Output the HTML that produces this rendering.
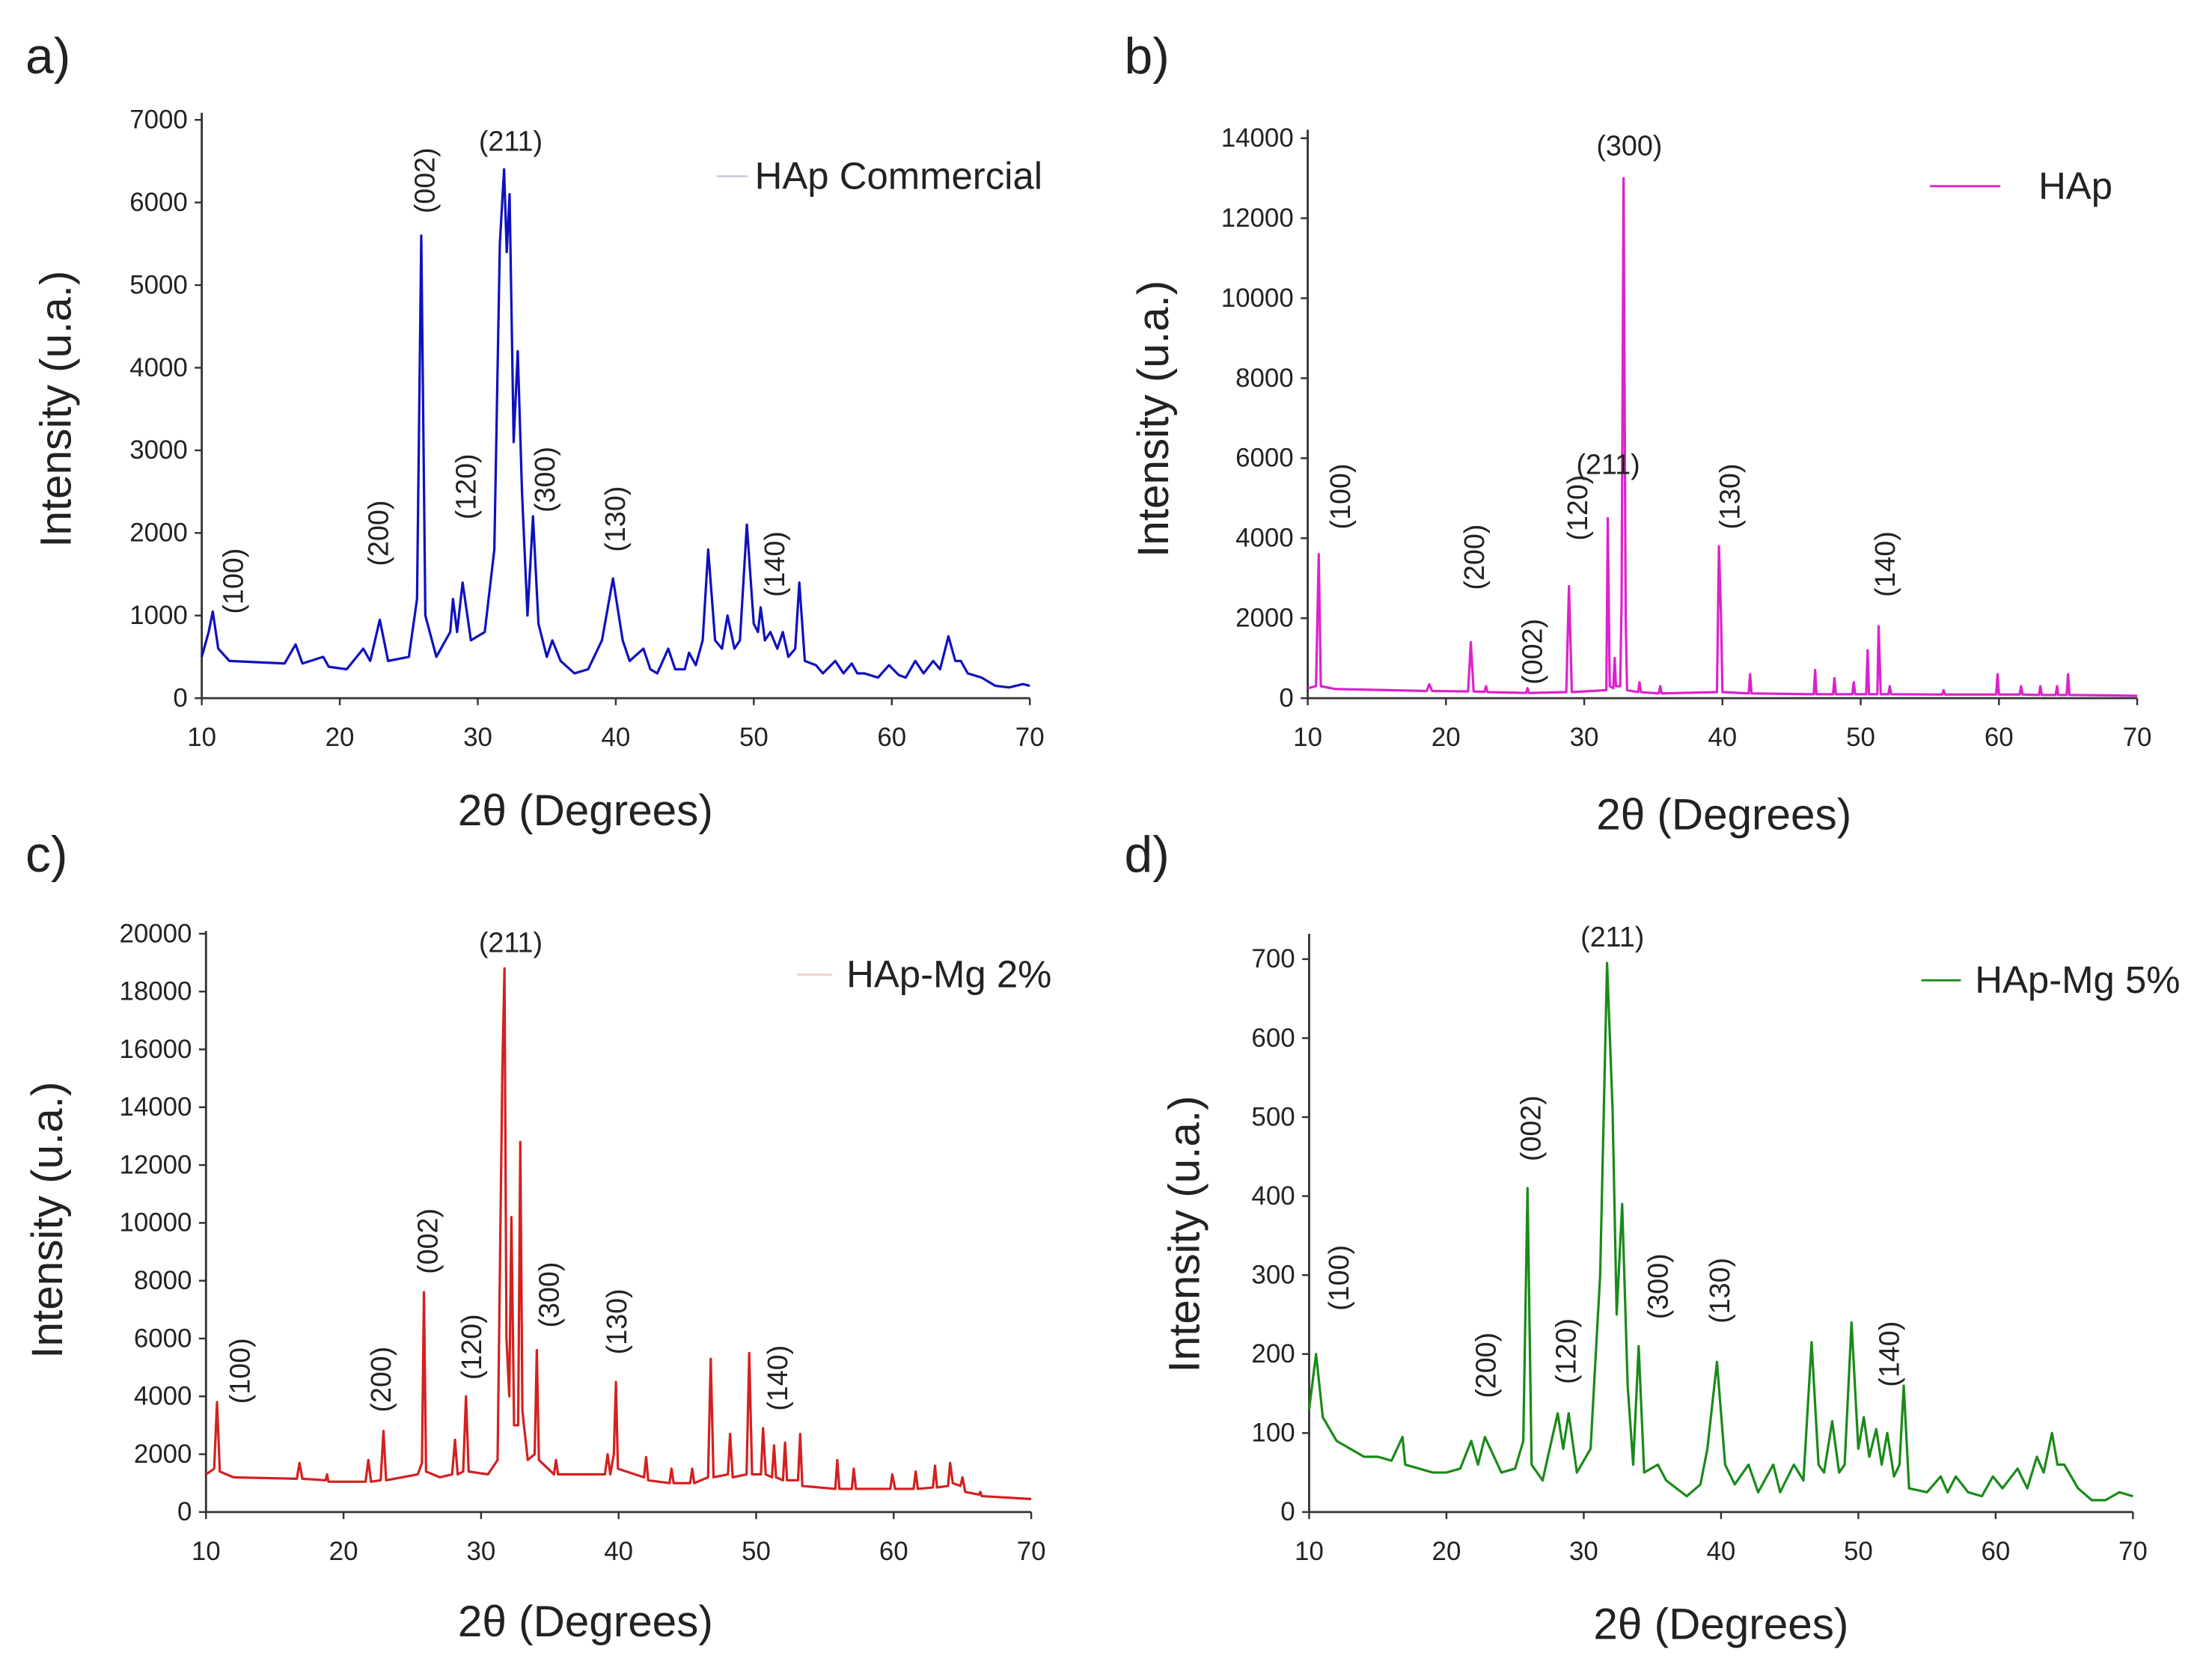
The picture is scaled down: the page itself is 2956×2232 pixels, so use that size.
<!DOCTYPE html>
<html><head><meta charset="utf-8"><style>
html,body{margin:0;padding:0;background:#fff}
svg{display:block}
text{font-family:"Liberation Sans",sans-serif;fill:#222}
</style></head><body>
<svg id="fig" width="2956" height="2232" viewBox="0 0 1568 1184" xmlns="http://www.w3.org/2000/svg"></svg>
<script>
// Panel a data: HAp Commercial
const aX=[10,10.5,10.8,11.2,12,16,16.8,17.3,18.8,19.2,20.5,21.7,22.2,22.9,23.5,25,25.6,25.9,26.2,27,28,28.2,28.5,28.9,29.5,30.5,31.2,31.6,31.9,32.1,32.3,32.6,32.9,33.2,33.6,34.0,34.4,35,35.4,36,37,38,39,39.8,40.5,41,42,42.5,43,43.8,44.3,45,45.3,45.8,46.3,46.7,47.2,47.7,48.1,48.6,49,49.5,50,50.3,50.5,50.8,51.2,51.7,52.1,52.5,53,53.3,53.7,54.5,55,55.9,56.5,57.1,57.5,58,59,59.8,60.5,61,61.7,62.3,63,63.5,64.1,64.6,65,65.5,66.5,67.5,68.5,69.5,70];
const aY=[500,800,1050,600,450,420,650,420,500,380,350,600,450,950,450,500,1200,5600,1000,500,800,1200,800,1400,700,800,1800,5500,6400,5400,6100,3100,4200,2500,1000,2200,900,500,700,450,300,350,700,1450,700,450,600,350,300,600,350,350,550,400,700,1800,700,600,1000,600,700,2100,900,800,1100,700,800,600,800,500,600,1400,450,400,300,450,300,420,300,300,250,400,280,250,450,300,450,350,750,450,450,300,250,150,130,170,150];
// Panel b data: HAp
const bX=[10,10.6,10.8,10.95,12,18.6,18.8,19,21.6,21.8,22,22.8,22.9,23,25.8,25.9,26,28.7,28.9,29.1,31.6,31.7,31.85,32.1,32.2,32.3,32.6,32.7,32.85,33,33.1,33.9,34,34.1,35.4,35.5,35.6,39.6,39.75,39.9,40,41.9,42,42.1,46.6,46.7,46.8,48,48.1,48.2,49.4,49.5,49.6,50.4,50.5,50.6,51.2,51.3,51.45,52,52.1,52.2,55.9,56,56.1,59.8,59.9,60,61.5,61.6,61.7,62.9,63,63.1,64.1,64.2,64.3,64.9,65,65.1,70];
const bY=[250,300,3600,300,230,180,350,180,170,1400,170,160,300,150,130,250,130,150,2800,150,200,4500,300,250,1000,300,300,2400,13000,2000,200,150,400,150,120,300,120,150,3800,2000,150,120,600,120,100,700,100,100,500,100,100,400,100,100,1200,100,100,1800,100,100,300,100,90,200,90,90,600,90,90,300,90,80,300,80,80,300,80,80,600,80,60];
// Panel c data: HAp-Mg 2%
const cX=[10,10.6,10.8,11,12,16.6,16.8,17,18.7,18.8,18.9,21.6,21.8,22,22.7,22.9,23.1,25.4,25.7,25.85,26,27,27.9,28.1,28.3,28.7,28.9,29.1,30.5,31.2,31.55,31.7,31.85,32.05,32.2,32.4,32.7,32.85,33,33.4,33.9,34.05,34.2,35.3,35.45,35.6,39,39.2,39.4,39.65,39.8,39.95,41.85,42,42.15,43.7,43.85,44,45.2,45.35,45.5,46.5,46.7,46.9,47.95,48.1,48.3,49.3,49.5,49.7,50.35,50.5,50.7,51.15,51.3,51.45,51.95,52.1,52.25,53.05,53.2,53.35,55.75,55.9,56.05,56.95,57.1,57.25,59.75,59.9,60.1,61.45,61.6,61.75,62.85,63,63.15,63.95,64.1,64.3,64.85,65,65.2,66.2,66.3,66.4,70];
const cY=[1300,1500,3800,1400,1200,1150,1700,1150,1100,1300,1050,1050,1800,1050,1100,2800,1100,1300,1700,7600,1400,1200,1300,2500,1300,1400,4000,1400,1300,1800,15300,18800,6000,4000,10200,3000,3000,12800,3500,1800,2000,5600,1800,1300,1800,1300,1300,2000,1300,2000,4500,1500,1200,1900,1100,1000,1500,1000,1000,1500,1000,1200,5300,1200,1300,2700,1200,1300,5500,1300,1300,2900,1300,1200,2300,1200,1100,2400,1100,1100,2700,900,800,1800,800,800,1500,800,800,1300,800,800,1400,800,850,1600,850,900,1700,1000,900,1200,700,600,700,550,450];
// Panel d data: HAp-Mg 5%
const dX=[10,10.5,11,12,13,14,15,16,16.8,17,18,19,20,21,21.8,22.3,22.8,24,25,25.6,25.9,26.2,27,28.1,28.5,28.9,29.5,30.5,31.2,31.7,32.1,32.4,32.8,33.2,33.6,34,34.4,35.4,36,37.5,38.5,39,39.7,40.3,41,42,42.7,43.8,44.3,45.3,46,46.6,47.1,47.5,48.1,48.6,49,49.5,50,50.4,50.8,51.3,51.7,52.1,52.6,53,53.3,53.7,55,56,56.5,57.1,58,59,59.8,60.5,61.6,62.3,63,63.5,64.1,64.5,65,66,67,68,69,70];
const dY=[130,200,120,90,80,70,70,65,95,60,55,50,50,55,90,60,95,50,55,90,410,60,40,125,80,125,50,80,300,695,510,250,390,160,60,210,50,60,40,20,35,80,190,60,35,60,25,60,25,60,40,215,60,50,115,50,60,240,80,120,70,105,60,100,45,60,160,30,25,45,25,45,25,20,45,30,55,30,70,50,100,60,60,30,15,15,25,20];

const yTicksA=[0,1000,2000,3000,4000,5000,6000,7000];
const yTicksB=[0,2000,4000,6000,8000,10000,12000,14000];
const yTicksC=[0,2000,4000,6000,8000,10000,12000,14000,16000,18000,20000];
const yTicksD=[0,100,200,300,400,500,600,700];
const xTicks=[10,20,30,40,50,60,70];

const NS="http://www.w3.org/2000/svg";
const svg=document.getElementById('fig');
function mk(tag,attrs,parent){const e=document.createElementNS(NS,tag);for(const k in attrs)e.setAttribute(k,attrs[k]);(parent||svg).appendChild(e);return e;}

const panels=[
 {id:'a',letter:'a)',lx:18,ly:52,x0:143,x1:730,y0:495,yTop:85,axTop:80,ymax:7000,ticks:yTicksA,xs:aX,ys:aY,color:'#1010c0',
  legend:'HAp Commercial',legX:535,legY:134,legLine:[508,530],legColor:'#ccd',xtX:415,xtY:585,ytX:50,ytY:290,
  labels:[['(100)',165,412,1],['(200)',268,378,1],['(002)',301,128,1],['(120)',330,345,1],['(211)',362,100,0],['(300)',386,340,1],['(130)',436,368,1],['(140)',549,400,1]]},
 {id:'b',letter:'b)',lx:797,ly:52,x0:927,x1:1515,y0:495,yTop:98,axTop:92,ymax:14000,ticks:yTicksB,xs:bX,ys:bY,color:'#dd22cc',
  legend:'HAp',legX:1445,legY:141,legLine:[1368,1418],legColor:'#dd22cc',xtX:1222,xtY:588,ytX:828,ytY:297,
  labels:[['(100)',950,352,1],['(200)',1045,395,1],['(002)',1086,462,1],['(120)',1118,360,1],['(211)',1140,329,0],['(300)',1155,103,0],['(130)',1226,352,1],['(140)',1336,400,1]]},
 {id:'c',letter:'c)',lx:18,ly:618,x0:146,x1:731,y0:1072,yTop:662,axTop:660,ymax:20000,ticks:yTicksC,xs:cX,ys:cY,color:'#d42020',
  legend:'HAp-Mg 2%',legX:600,legY:700,legLine:[565,590],legColor:'#f2d0d0',xtX:415,xtY:1160,ytX:44,ytY:865,
  labels:[['(100)',170,972,1],['(200)',270,978,1],['(002)',303,880,1],['(120)',334,955,1],['(211)',362,668,0],['(300)',389,918,1],['(130)',437,937,1],['(140)',551,977,1]]},
 {id:'d',letter:'d)',lx:797,ly:618,x0:928,x1:1512,y0:1072,yTop:680,axTop:662,ymax:700,ticks:yTicksD,xs:dX,ys:dY,color:'#1a8a1a',
  legend:'HAp-Mg 5%',legX:1400,legY:704,legLine:[1362,1390],legColor:'#1a8a1a',xtX:1220,xtY:1162,ytX:850,ytY:875,
  labels:[['(100)',949,906,1],['(200)',1053,968,1],['(002)',1085,800,1],['(120)',1110,958,1],['(211)',1143,664,0],['(300)',1175,912,1],['(130)',1219,915,1],['(140)',1339,960,1]]}
];

panels.forEach(p=>{
  const g=mk('g',{});
  
  
  const sx=v=>p.x0+(v-10)/60*(p.x1-p.x0);
  const sy=v=>p.y0-v/p.ymax*(p.y0-p.yTop);
  const lt=mk('text',{x:p.lx,y:p.ly,'font-size':36},g);lt.textContent=p.letter;
  
  
  const ya=mk('line',{x1:p.x0,y1:p.axTop,x2:p.x0,y2:p.y0,stroke:'#333','stroke-width':1.5},g);
  
  
  const xa=mk('line',{x1:p.x0,y1:p.y0,x2:p.x1,y2:p.y0,stroke:'#333','stroke-width':1.5},g);
  
  
  p.ticks.forEach(t=>{
    mk('line',{x1:p.x0-5,y1:sy(t),x2:p.x0,y2:sy(t),stroke:'#333','stroke-width':1.3},g);
    const tx=mk('text',{x:p.x0-10,y:sy(t)+6,'font-size':18.5,'text-anchor':'end'},g);tx.textContent=t;
    
    
  });
  xTicks.forEach(t=>{
    mk('line',{x1:sx(t),y1:p.y0,x2:sx(t),y2:p.y0+5,stroke:'#333','stroke-width':1.3},g);
    const tx=mk('text',{x:sx(t),y:p.y0+34,'font-size':18.5,'text-anchor':'middle'},g);tx.textContent=t;
    
    
  });
  const xt=mk('text',{x:p.xtX,y:p.xtY,'font-size':31,'text-anchor':'middle'},g);xt.textContent='2θ (Degrees)';
  
  
  const yt=mk('text',{x:p.ytX,y:p.ytY,'font-size':31,'text-anchor':'middle',transform:`rotate(-90 ${p.ytX} ${p.ytY})`},g);yt.textContent='Intensity (u.a.)';
  
  
  let d='';
  p.xs.forEach((x,i)=>{d+=(i?'L':'M')+sx(x).toFixed(1)+','+sy(p.ys[i]).toFixed(1);});
  const path=mk('path',{d:d,fill:'none',stroke:p.color,'stroke-width':1.7,'stroke-linejoin':'round'},g);
  
  
  const ll=mk('line',{x1:p.legLine[0],y1:p.legY-9,x2:p.legLine[1],y2:p.legY-9,stroke:p.legColor,'stroke-width':1.5},g);
  
  
  const lg=mk('text',{x:p.legX,y:p.legY,'font-size':27},g);lg.textContent=p.legend;
  
  
  p.labels.forEach(l=>{
    const at={x:l[1],y:l[2]+7,'font-size':20,'text-anchor':'middle'};
    if(l[3])at.transform=`rotate(-90 ${l[1]} ${l[2]})`;
    const t=mk('text',at,g);t.textContent=l[0];
    
    
  });
});
</script>
</body></html>
